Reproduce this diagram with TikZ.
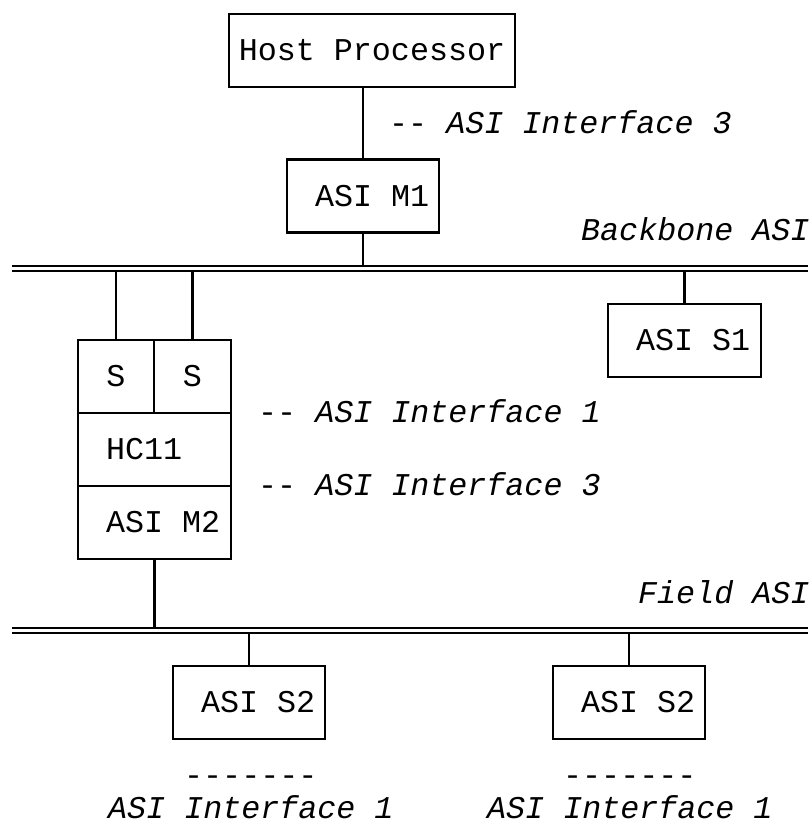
\documentclass[tikz,border=0pt]{standalone}
\usepackage{fontspec}
\setmonofont{Liberation Mono}
\usetikzlibrary{shapes}
\usetikzlibrary{positioning}

% text in a box, one cell and a half from its left side
\newcommand{\inbox}[2]{\makebox[#1][l]{\hspace{28pt}#2}}

\begin{document}
\begin{tikzpicture}[x=1pt,y=-1pt,font=\ttfamily\fontsize{31.7}{38}\selectfont]
\tikzstyle{block} = [rectangle, draw, line width=2.6pt, inner sep=0pt, minimum height=73pt]
\tikzstyle{wire} = [draw, line width=2.6pt]
\tikzstyle{bus} = [draw, line width=2pt, double, double distance=3pt]
\tikzstyle{note} = [inner sep=0pt, anchor=base west]
\tikzstyle{ital} = [note, font=\ttfamily\fontsize{31.7}{38}\selectfont\itshape]
\useasboundingbox (0,0) rectangle (811,823);
% host side
\node [block, minimum width=286pt] (host) at (372,50.5) {Host Processor};
\node [block] (m1) at (363,196) {\inbox{152pt}{ASI M1}};
\node [note] (if3top) at (389,133) {-- \itshape ASI Interface 3};
% backbone
\coordinate (bbw) at (12,268.5);
\coordinate (bbe) at (808,268.5);
\node [ital] (bbname) at (581,240) {Backbone ASI};
\node [block] (s1) at (684.5,340.5) {\inbox{153pt}{ASI S1}};
% gateway
\node [block, minimum width=76pt] (sa) at (116,376.5) {S};
\node [block, minimum width=77pt] (sb) at (192.5,376.5) {S};
\node [block] (hc) at (154.5,449.5) {\inbox{153pt}{HC11}};
\node [block] (m2) at (154.5,522.5) {\inbox{153pt}{ASI M2}};
\node [note] (if1mid) at (258,422) {-- \itshape ASI Interface 1};
\node [note] (if3mid) at (258,495) {-- \itshape ASI Interface 3};
% field
\coordinate (fbw) at (12,630.5);
\coordinate (fbe) at (808,630.5);
\node [ital] (fbname) at (638,603) {Field ASI};
\node [block] (s2a) at (249,702.5) {\inbox{152pt}{ASI S2}};
\node [block] (s2b) at (629,702.5) {\inbox{152pt}{ASI S2}};
\node [note] (dasha) at (184,785) {-------};
\node [note] (dashb) at (563,785) {-------};
\node [ital] (if1a) at (108,818) {ASI Interface 1};
\node [ital] (if1b) at (487,818) {ASI Interface 1};
% links
\draw [wire] (m1.north) -- (m1.north |- host.south);
\draw [wire] (m1.south) -- (m1.south |- bbw);
\draw [wire] (sa.north) -- (sa.north |- bbw);
\draw [wire] (sb.north) -- (sb.north |- bbw);
\draw [wire] (s1.north) -- (s1.north |- bbw);
\draw [wire] (m2.south) -- (m2.south |- fbw);
\draw [wire] (s2a.north) -- (s2a.north |- fbw);
\draw [wire] (s2b.north) -- (s2b.north |- fbw);
\draw [bus] (bbw) -- (bbe);
\draw [bus] (fbw) -- (fbe);
\end{tikzpicture}
\end{document}
